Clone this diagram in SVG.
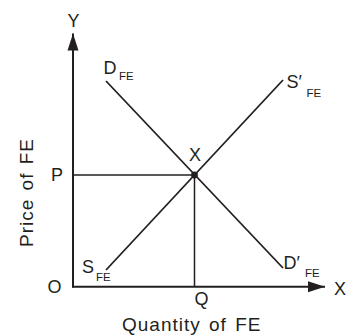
<svg xmlns="http://www.w3.org/2000/svg" width="351" height="335" viewBox="0 0 351 335">
<style>
text{font-family:"Liberation Sans",Arial,Helvetica,sans-serif;fill:#231f20}
.lbl{font-size:18px}
.sub{font-size:11.5px}
.title{font-size:19px;letter-spacing:1px;word-spacing:2px}
.axis{stroke:#231f20;stroke-width:2;fill:none}
.curve{stroke:#231f20;stroke-width:1.8;fill:none}
.guide{stroke:#231f20;stroke-width:1.5;fill:none}
</style>
<defs>
<marker id="arr" markerUnits="userSpaceOnUse" markerWidth="18" markerHeight="12" refX="17" refY="6" orient="auto">
<path d="M0,0.5 L17,6 L0,11.5 Z" fill="#231f20"/>
</marker>
</defs>
<rect width="351" height="335" fill="#ffffff"/>
<g id="connectors">
<line class="axis" x1="73" y1="287.5" x2="73" y2="33.5" marker-end="url(#arr)"/>
<line class="axis" x1="72" y1="286.7" x2="325" y2="286.7" marker-end="url(#arr)"/>
<line id="demand" class="curve" x1="106" y1="81" x2="283" y2="268"/>
<line id="supply" class="curve" x1="106" y1="270" x2="283" y2="80"/>
<line class="guide" x1="73" y1="175" x2="194.5" y2="175"/>
<line class="guide" x1="194.5" y1="175" x2="194.5" y2="287"/>
</g>
<g id="point-X">
<circle cx="194.5" cy="175" r="3.4" fill="#231f20"/>
<text class="lbl" x="189" y="160.5">X</text>
</g>
<g id="label-D">
<text class="lbl" x="103.5" y="73.5">D</text>
<text class="sub" x="119" y="80">FE</text>
</g>
<g id="label-S2">
<text class="lbl" x="286.5" y="88">S′</text>
<text class="sub" x="306.5" y="96.5">FE</text>
</g>
<g id="label-D2">
<text class="lbl" x="283.5" y="269">D′</text>
<text class="sub" x="305" y="276.5">FE</text>
</g>
<g id="label-S">
<text class="lbl" x="82" y="273">S</text>
<text class="sub" x="96" y="280.5">FE</text>
</g>
<g id="axis-labels">
<text class="lbl" x="51" y="180.5">P</text>
<text class="lbl" x="47.5" y="293">O</text>
<text class="lbl" x="194.5" y="305">Q</text>
<text class="lbl" x="334" y="295">X</text>
<text class="lbl" x="67.5" y="26.5">Y</text>
<text class="title" x="122" y="331">Quantity of FE</text>
<text class="title" transform="translate(33.3,247) rotate(-90)" x="0" y="0">Price of FE</text>
</g>
</svg>
